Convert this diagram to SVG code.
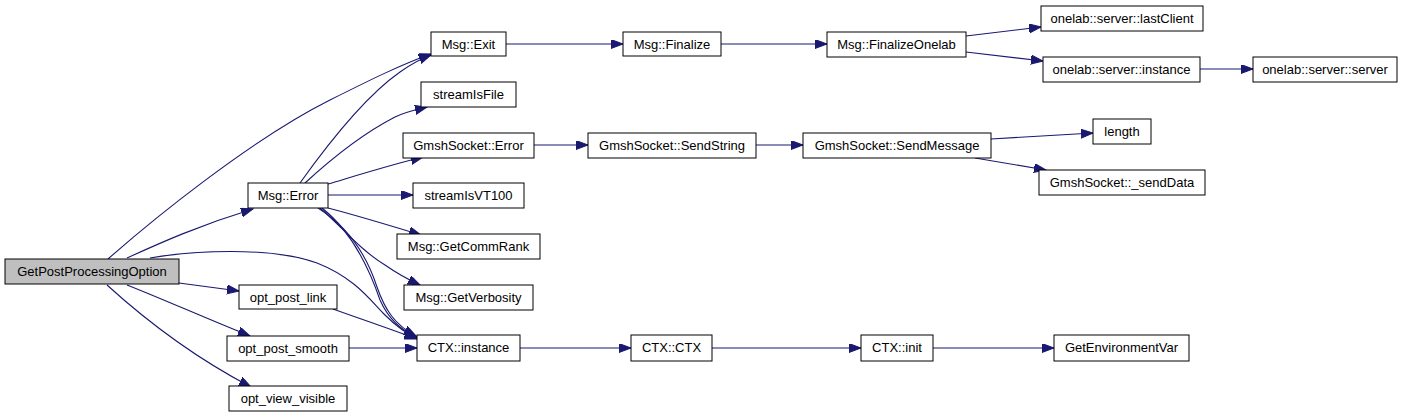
<svg xmlns="http://www.w3.org/2000/svg" width="1403" height="417" viewBox="0 0 1403 417">
<style>
.n rect{fill:#ffffff;stroke:#000000;stroke-width:1}
.n.root rect{fill:#bfbfbf}
.n text{font-family:"Liberation Sans",Arial,sans-serif;font-size:13px;fill:#000000;text-anchor:middle}
#edges path{fill:none;stroke:#191970;stroke-width:1.1;marker-end:url(#ah)}
</style>
<defs>
<marker id="ah" markerUnits="userSpaceOnUse" markerWidth="14" markerHeight="11" refX="12" refY="4.5" orient="auto">
<path d="M0,0 L12,4.5 L0,9 z" fill="#191970" stroke="#191970" stroke-width="1"/>
</marker>
</defs>
<rect width="1403" height="417" fill="#ffffff"/>
<g id="edges">
<path d="M108,259 C150,222 250,140 330,100 C370,80 400,65 431,54"/>
<path d="M300,183 C320,155 360,100 400,72 C410,65 420,59 431,55"/>
<path d="M318,208 C345,225 365,250 377,287 C385,310 395,325 416,336"/>
<path d="M322,208 C350,230 368,265 380,300 C388,318 400,330 417,337"/>
<path d="M127,258 C160,243 200,225 253,209"/>
<path d="M150,258 C190,251 270,246 317,263 C355,278 370,300 385,315 C395,325 405,333 417,338"/>
<path d="M179,283 L239,291"/>
<path d="M127,285 C165,300 205,318 250,336"/>
<path d="M107,285 C140,315 190,355 251,387"/>
<path d="M305,183 C330,160 360,135 395,117 C405,112 415,110 427,107"/>
<path d="M328,184 C355,176 390,165 423,157"/>
<path d="M328,195 L413,195"/>
<path d="M328,208 C355,215 385,224 421,235"/>
<path d="M320,208 C340,225 360,250 385,265 C395,272 405,278 420,285"/>
<path d="M333,309 C355,317 385,327 417,339"/>
<path d="M349,348 L417,348"/>
<path d="M506,44 L623,44"/>
<path d="M721,44 L827,44"/>
<path d="M966,36 L1041,27"/>
<path d="M966,52 L1043,61"/>
<path d="M1200,69 L1253,69"/>
<path d="M534,145 L588,145"/>
<path d="M756,145 L803,145"/>
<path d="M991,139 L1093,133"/>
<path d="M975,158 L1046,170"/>
<path d="M520,348 L631,348"/>
<path d="M712,348 L861,348"/>
<path d="M933,348 L1054,348"/>
</g>
<g id="GetPostProcessingOption" class="n root"><rect x="5" y="259" width="174" height="25"/><text x="92" y="276">GetPostProcessingOption</text></g>
<g id="Msg_Error" class="n"><rect x="248" y="183" width="80" height="25"/><text x="288" y="200">Msg::Error</text></g>
<g id="opt_post_link" class="n"><rect x="239" y="285" width="98" height="24"/><text x="288" y="302">opt_post_link</text></g>
<g id="opt_post_smooth" class="n"><rect x="227" y="336" width="122" height="25"/><text x="288" y="353">opt_post_smooth</text></g>
<g id="opt_view_visible" class="n"><rect x="229" y="386" width="118" height="25"/><text x="288" y="403">opt_view_visible</text></g>
<g id="Msg_Exit" class="n"><rect x="431" y="32" width="75" height="24"/><text x="468.5" y="49">Msg::Exit</text></g>
<g id="streamIsFile" class="n"><rect x="421" y="82" width="95" height="25"/><text x="468.5" y="99">streamIsFile</text></g>
<g id="GmshSocket_Error" class="n"><rect x="403" y="133" width="131" height="25"/><text x="468.5" y="150">GmshSocket::Error</text></g>
<g id="streamIsVT100" class="n"><rect x="413" y="183" width="111" height="25"/><text x="468.5" y="200">streamIsVT100</text></g>
<g id="Msg_GetCommRank" class="n"><rect x="397" y="234" width="143" height="25"/><text x="468.5" y="251">Msg::GetCommRank</text></g>
<g id="Msg_GetVerbosity" class="n"><rect x="404" y="285" width="129" height="25"/><text x="468.5" y="302">Msg::GetVerbosity</text></g>
<g id="CTX_instance" class="n"><rect x="417" y="335" width="103" height="26"/><text x="468.5" y="352">CTX::instance</text></g>
<g id="Msg_Finalize" class="n"><rect x="623" y="32" width="98" height="24"/><text x="672" y="49">Msg::Finalize</text></g>
<g id="GmshSocket_SendString" class="n"><rect x="588" y="133" width="168" height="25"/><text x="672" y="150">GmshSocket::SendString</text></g>
<g id="CTX_CTX" class="n"><rect x="631" y="335" width="81" height="26"/><text x="671.5" y="352">CTX::CTX</text></g>
<g id="Msg_FinalizeOnelab" class="n"><rect x="827" y="32" width="139" height="25"/><text x="896.5" y="49">Msg::FinalizeOnelab</text></g>
<g id="GmshSocket_SendMessage" class="n"><rect x="803" y="133" width="188" height="25"/><text x="897" y="150">GmshSocket::SendMessage</text></g>
<g id="CTX_init" class="n"><rect x="861" y="335" width="72" height="26"/><text x="897" y="352">CTX::init</text></g>
<g id="onelab_server_lastClient" class="n"><rect x="1041" y="6" width="162" height="25"/><text x="1122" y="23">onelab::server::lastClient</text></g>
<g id="onelab_server_instance" class="n"><rect x="1043" y="57" width="157" height="25"/><text x="1121.5" y="74">onelab::server::instance</text></g>
<g id="length" class="n"><rect x="1093" y="119" width="58" height="25"/><text x="1122" y="136">length</text></g>
<g id="GmshSocket_sendData" class="n"><rect x="1039" y="170" width="166" height="25"/><text x="1122" y="187">GmshSocket::_sendData</text></g>
<g id="GetEnvironmentVar" class="n"><rect x="1054" y="335" width="135" height="26"/><text x="1121.5" y="352">GetEnvironmentVar</text></g>
<g id="onelab_server_server" class="n"><rect x="1253" y="57" width="144" height="25"/><text x="1325" y="74">onelab::server::server</text></g>
</svg>
